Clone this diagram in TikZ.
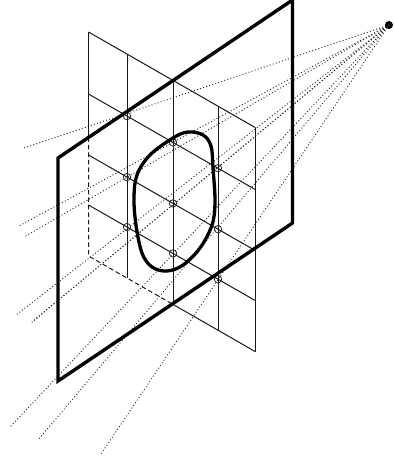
\documentclass[tikz,border=0pt]{standalone}
\usepackage{tikz}

\begin{document}
\begin{tikzpicture}[
x=1pt, y=-1pt,
gridline/.style={line width=1pt, black!90},
hidden/.style={line width=1pt, black!90, dash pattern=on 4.5pt off 3pt},
ray/.style={line width=0.9pt, black!85, dash pattern=on 1pt off 2.2pt},
plate/.style={line width=3.4pt, black, line join=miter},
outline/.style={line width=3.3pt, black},
hit/.style={circle, draw=black!85, line width=0.8pt, inner sep=0pt, minimum size=7.4pt},
eye/.style={circle, fill=black, inner sep=0pt, minimum size=8pt}
]
\useasboundingbox (0,0) rectangle (393,457);
\foreach \col/\px in {a/88.5,b/127,c/173,d/218,e/255.5}
  \foreach \row/\py in {1/0,2/62,3/123,4/173,5/224}
    \coordinate (\col\row) at (\px,{32+0.573*(\px-88.5)+\py});
\coordinate (p1) at (58,158);
\coordinate (p2) at (292.5,0);
\coordinate (p3) at (292.5,223);
\coordinate (p4) at (58,381);
\coordinate (enter) at (88.5,137.4);
% free ends of the rays
\coordinate (endb2) at (24,148);
\coordinate (endc2) at (19,226);
\coordinate (endd2) at (32,322);
\coordinate (endb3) at (24,237);
\coordinate (endc3) at (32,322);
\coordinate (endd3) at (38,440);
\coordinate (endb4) at (16,315);
\coordinate (endc4) at (10,427);
\coordinate (endd4) at (101,454);
\node[eye] (apex) at (389,25) {};
\foreach \n in {b2,c2,d2,b3,c3,d3,b4,c4,d4}
  \draw[ray] (apex.center) -- (end\n);
% grid
\foreach \row in {1,2,3,4}
  \draw[gridline] (a\row) -- (e\row);
\draw[gridline] (c5) -- (e5);
\draw[gridline] (a1) -- (enter);
\draw[hidden] (enter) -- (a5) -- (c5);
\foreach \col in {b,c,d,e}
  \draw[gridline] (\col1) -- (\col5);
\foreach \n in {b2,c2,d2,b3,c3,d3,b4,c4,d4}
  \node[hit] (hit\n) at (\n) {};
\draw[outline] plot[smooth cycle, tension=0.6] coordinates {(173,138) (188,132) (203,135) (211,146) (213,168) (215,202) (212,225) (200,248) (183,265) (167,271) (152,267) (142,253) (136,225) (134,198) (137,175) (150,155)};
\draw[plate] (p1) -- (p2) -- (p3) -- (p4) -- cycle;
\end{tikzpicture}
\end{document}
